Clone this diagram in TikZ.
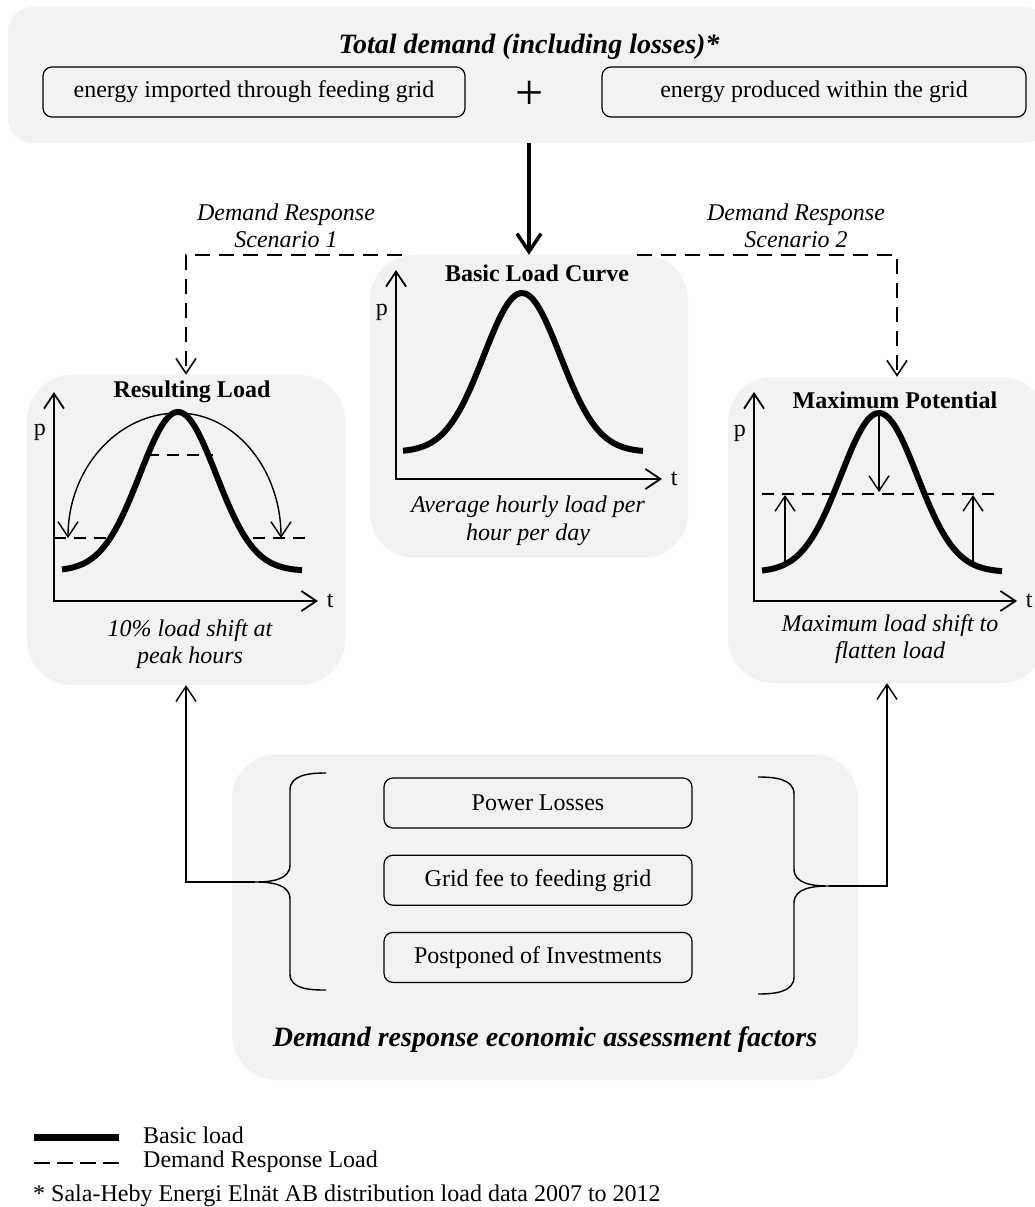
\documentclass[tikz,border=0pt]{standalone}
\usepackage{fontspec}
\setmainfont{Liberation Serif}
\usetikzlibrary{arrows.meta,positioning}
\definecolor{panelgray}{HTML}{F2F2F2}
\tikzset{
    panel/.style={fill=panelgray,rounded corners=45pt,inner sep=0pt},
    source/.style={draw,rounded corners=9pt,line width=1.2pt,minimum height=50pt,inner sep=0pt},
    factor/.style={draw,rounded corners=9pt,line width=1.2pt,minimum width=308pt,minimum height=50pt,inner sep=0pt},
    loadcurve/.style={line width=6pt},
    axis/.style={line width=1.8pt,<->},
    drline/.style={dash pattern=on 15pt off 9pt,line width=1.6pt},
    shiftline/.style={dash pattern=on 12pt off 8pt,line width=1.5pt},
    >={Straight Barb[length=15pt,width=20pt]}
}

\begin{document}
\fontsize{24}{27.5}\selectfont
\begin{tikzpicture}[x=1pt,y=-1pt,declare function={bell(\x)=159*exp(-(\x*\x)/2916);}]
      \useasboundingbox (0,0) rectangle (1035,1207);
      \clip (0,0) rectangle (1035,1207);
      % total demand
      \node[panel,rounded corners=25pt,minimum width=1042pt,minimum height=136pt] (total) at (529,75) {};
      \node[font=\fontsize{28}{32}\selectfont\bfseries\itshape] (totaltitle) at (529,47) {Total demand (including losses)*};
      \node[source,minimum width=422pt] (imported) at (254,92) {energy imported through feeding grid};
      \node[source,minimum width=424pt] (produced) at (814,92) {energy produced within the grid};
      \node[font=\fontsize{50}{50}\selectfont,inner sep=0pt] (plus) at (530,95) {+};
      % panels
      \node[panel,minimum width=318pt,minimum height=303pt] (basic) at (529,406.5) {};
      \node[panel,minimum width=318pt,minimum height=310pt] (resload) at (186,530) {};
      \node[panel,minimum width=318pt,minimum height=306pt] (maxpot) at (887,530) {};
      \node[panel,minimum width=626pt,minimum height=326pt] (factors) at (545,917) {};
      % basic load curve
      \node[font=\bfseries] (basictitle) at (537,273) {Basic Load Curve};
      \draw[axis] (396,270) -- (396,479) -- (662,479) node[right] (tbasic) {t};
      \node[left] (pbasic) at (396,312) {p};
      \draw[loadcurve,domain=-119:121,smooth,samples=60,variable=\x] plot ({522+\x},{452-bell(\x)});
      \node[font=\itshape,align=center] (basiccap) at (528,521) {Average hourly load per\\hour per day};
      % resulting load
      \node[font=\bfseries] (restitle) at (192,392) {Resulting Load};
      \draw[axis] (54,392) -- (54,601) -- (318,601) node[right] (tres) {t};
      \node[left] (pres) at (54,432) {p};
      \draw[loadcurve,domain=-116:124,smooth,samples=60,variable=\x] plot ({178+\x},{571-bell(\x)});
      \draw[shiftline] (54,538) -- (110,538);
      \draw[shiftline] (253,538) -- (308,538);
      \draw[shiftline] (147,455) -- (213,455);
      \draw[line width=1.4pt,->] (178,413) arc[start angle=-90,end angle=-180,x radius=110,y radius=125];
      \draw[line width=1.4pt,->] (178,413) arc[start angle=-90,end angle=0,x radius=103,y radius=125];
      \node[font=\itshape,align=center] (rescap) at (190,644) {10\% load shift at\\peak hours};
      % maximum potential
      \node[font=\bfseries] (maxtitle) at (895,400) {Maximum Potential};
      \draw[axis] (754,392) -- (754,601) -- (1017,601) node[right] (tmax) {t};
      \node[left] (pmax) at (754,433) {p};
      \draw[loadcurve,domain=-117:123,smooth,samples=60,variable=\x] plot ({879+\x},{572-bell(\x)});
      \draw[shiftline] (762,494) -- (997,494);
      \draw[line width=1.4pt,->] (879,413) -- (879,492);
      \draw[line width=1.4pt,->] (785,563) -- (785,495);
      \draw[line width=1.4pt,->] (973,563) -- (973,495);
      \node[font=\itshape,align=center] (maxcap) at (890,639) {Maximum load shift to\\flatten load};
      % scenarios
      \draw[line width=3.5pt,->,>={Straight Barb[length=18pt,width=24pt]}] (total.south) -- (basic.north);
      \draw[drline,->] ([xshift=-127pt]basic.north) -| (resload.north);
      \draw[drline,->] ([xshift=108pt]basic.north) -| ([xshift=10pt]maxpot.north);
      \node[font=\itshape,align=center] (scen1) at (286,226) {Demand Response\\Scenario 1};
      \node[font=\itshape,align=center] (scen2) at (796,226) {Demand Response\\Scenario 2};
      % assessment factors
      \node[factor] (losses) at (538,803) {Power Losses};
      \node[factor,below=26pt of losses] (gridfee) {Grid fee to feeding grid};
      \node[factor,below=26pt of gridfee] (postponed) {Postponed of Investments};
      \node[font=\fontsize{28}{32}\selectfont\bfseries\itshape] (factorstitle) at (545,1040) {Demand response economic assessment factors};
      \coordinate (lbrace) at (255,882);
      \coordinate (rbrace) at (829,886);
      \draw[line width=1.4pt] (326,773) to[out=180,in=90] (290,790) -- (290,865) to[out=-90,in=0] (lbrace)
            to[out=0,in=90] (290,899) -- (290,974) to[out=-90,in=180] (326,990);
      \draw[line width=1.4pt] (758,777) to[out=0,in=90] (794,794) -- (794,869) to[out=-90,in=180] (rbrace)
            to[out=180,in=90] (794,903) -- (794,977) to[out=-90,in=0] (758,994);
      \draw[line width=1.4pt,->] (lbrace) -| (resload.south);
      \draw[line width=1.4pt,->] (rbrace) -| (maxpot.south);
      % legend
      \draw[line width=7pt] (34,1137) -- (119,1137);
      \draw[line width=2pt,dash pattern=on 16pt off 7pt] (34,1163) -- (119,1163);
      \node[anchor=west,inner sep=0pt] (basiclegend) at (143,1135) {Basic load};
      \node[anchor=west,inner sep=0pt] (drlegend) at (143,1162) {Demand Response Load};
      \node[anchor=west,inner sep=0pt] (source) at (33,1196) {* Sala-Heby Energi Elnät AB distribution load data 2007 to 2012};
\end{tikzpicture}
\end{document}
